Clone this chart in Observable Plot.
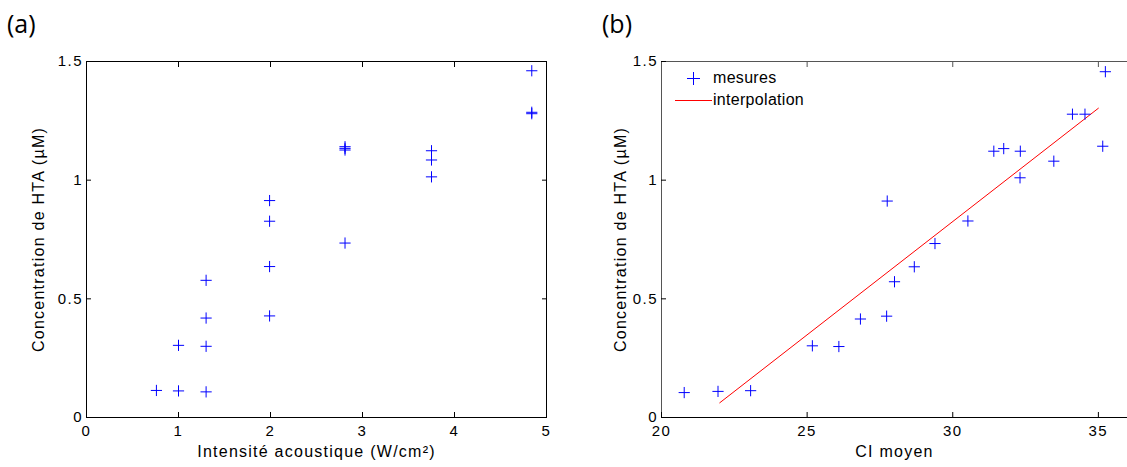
<!DOCTYPE html>
<html>
<head>
<meta charset="utf-8">
<script src="https://cdn.jsdelivr.net/npm/d3@7"></script>
<script src="https://cdn.jsdelivr.net/npm/@observablehq/plot@0.6"></script>
<style>
  html, body { margin: 0; padding: 0; background: #fff; }
  #wrap { position: relative; width: 1127px; height: 467px; overflow: hidden; background:#fff; }
  .panel { position: absolute; top: 0; }
  .panel svg g[aria-label="x-axis tick label"] text,
  .panel svg g[aria-label="y-axis tick label"] text { letter-spacing: 1.5px; }
  .panel svg g[aria-label="text"] text { letter-spacing: 1.25px; }
  .tag { position: absolute; z-index: 5; font-family: "Open Sans", sans-serif; font-size: 25px; color: #000; line-height: 1; }
  .legend { position: absolute; z-index: 5; left: 672px; top: 68px; font-family: "Liberation Sans", Arial, sans-serif; font-size: 16px; letter-spacing: 0.3px; color: #000; }
  .legend .row { position: relative; height: 22px; }
  .legend .lbl { position: absolute; left: 41px; top: 1px; white-space: nowrap; }
  .legend .plus { position: absolute; left: 15px; top: 4px; width: 13px; height: 13px; }
  .legend .plus .h { position: absolute; left: 0; top: 6px; width: 13px; height: 1px; background: #0000ff; }
  .legend .plus .v { position: absolute; left: 6px; top: 0; width: 1px; height: 13px; background: #0000ff; }
  .legend .line { position: absolute; left: 3px; top: 10px; width: 37px; height: 1px; background: #ff0000; }
</style>
</head>
<body>
<div id="wrap">
  <div id="left" class="panel" style="left:0px;"></div>
  <div id="right" class="panel" style="left:560px;"></div>
  <div class="tag" style="left:7px; top:11px;">(a)</div>
  <div class="tag" style="left:602px; top:11px;">(b)</div>
  <div class="legend">
    <div class="row"><div class="plus"><div class="h"></div><div class="v"></div></div><span class="lbl">mesures</span></div>
    <div class="row"><div class="line"></div><span class="lbl">interpolation</span></div>
  </div>
</div>
<script>
// ---- Data: panel (a) ----
const intensiteX = [0.76, 1.0, 1.0, 1.3, 1.3, 1.3, 1.3, 1.99, 1.99, 1.99, 1.99, 2.81, 2.81, 2.81, 2.81, 3.75, 3.75, 3.75, 4.84, 4.84, 4.84];
const concA = [0.114, 0.304, 0.112, 0.578, 0.419, 0.300, 0.108, 0.914, 0.827, 0.636, 0.428, 1.141, 1.134, 1.127, 0.735, 1.124, 1.085, 1.014, 1.461, 1.286, 1.280];
const ticksXA = [0, 1, 2, 3, 4, 5];

// ---- Data: panel (b) ----
const ciMoyen = [20.78, 21.94, 23.06, 25.18, 26.09, 26.83, 27.73, 27.75, 28.00, 28.68, 29.39, 30.52, 31.41, 31.75, 32.32, 32.31, 33.47, 34.11, 34.54, 35.15, 35.24];
const concB = [0.105, 0.110, 0.113, 0.302, 0.299, 0.415, 0.427, 0.912, 0.572, 0.635, 0.733, 0.828, 1.122, 1.133, 1.122, 1.010, 1.080, 1.278, 1.278, 1.143, 1.457];
const interpX = [22.0, 35.0];
const interpY = [0.062, 1.303];
const ticksXB = [20, 25, 30, 35];

const ticksY = [0, 0.5, 1, 1.5];
const yLabel = "Concentration de HTA (µM)";
const xLabelA = "Intensité acoustique (W/cm²)";
const xLabelB = "CI moyen";

const blue = "#0000ff";
const red = "#ff0000";
const fmt = d => String(d);

const ptsA = intensiteX.map((x, i) => ({x, y: concA[i]}));
const ptsB = ciMoyen.map((x, i) => ({x, y: concB[i]}));
const lineB = interpX.map((x, i) => ({x, y: interpY[i]}));

const style = {fontFamily: "'Liberation Sans', Arial, sans-serif", fontSize: "15px", background: "white", overflow: "visible"};
const R = 3.7;

const left = Plot.plot({
  width: 560, height: 467,
  marginLeft: 86, marginRight: 14, marginTop: 61, marginBottom: 50,
  style,
  x: {domain: [0, 5]},
  y: {domain: [0, 1.5]},
  marks: [
    Plot.frame({stroke: "black"}),
    Plot.axisX({anchor: "bottom", ticks: ticksXA, tickSize: -5, tickPadding: 13, tickFormat: fmt, label: null, fontSize: 15}),
    Plot.axisX({anchor: "top", ticks: ticksXA, tickSize: -5, tickFormat: () => "", label: null}),
    Plot.axisY({anchor: "left", ticks: ticksY, tickSize: -5, tickPadding: 8.5, tickFormat: fmt, label: null, fontSize: 15}),
    Plot.axisY({anchor: "right", ticks: ticksY, tickSize: -5, tickFormat: () => "", label: null}),
    Plot.text([xLabelA], {text: d => d, frameAnchor: "bottom", dy: 28, lineAnchor: "top", fontSize: 16}),
    Plot.text([yLabel], {text: d => d, frameAnchor: "left", textAnchor: "middle", dx: -48, rotate: -90, lineAnchor: "middle", fontSize: 16}),
    Plot.dot(ptsA, {x: "x", y: "y", symbol: "plus", r: R, stroke: blue, strokeWidth: 1})
  ]
});
document.getElementById("left").appendChild(left);

const right = Plot.plot({
  width: 567, height: 467,
  marginLeft: 101, marginRight: 0, marginTop: 61, marginBottom: 50,
  style,
  x: {domain: [20, 36]},
  y: {domain: [0, 1.5]},
  marks: [
    Plot.frame({anchor: "top", stroke: "#555"}),
    Plot.frame({anchor: "left", stroke: "#555"}),
    Plot.frame({anchor: "bottom", stroke: "black"}),
    Plot.axisX({anchor: "bottom", ticks: ticksXB, tickSize: -5, tickPadding: 13, tickFormat: fmt, label: null, fontSize: 15}),
    Plot.axisX({anchor: "top", ticks: ticksXB, tickSize: -5, tickFormat: () => "", label: null, stroke: "#555"}),
    Plot.axisY({anchor: "left", ticks: ticksY, tickSize: -5, tickPadding: 8.5, tickFormat: fmt, label: null, fontSize: 15}),
    Plot.text([xLabelB], {text: d => d, frameAnchor: "bottom", dy: 28, lineAnchor: "top", fontSize: 16}),
    Plot.text([yLabel], {text: d => d, frameAnchor: "left", textAnchor: "middle", dx: -41, rotate: -90, lineAnchor: "middle", fontSize: 16}),
    Plot.line(lineB, {x: "x", y: "y", stroke: red, strokeWidth: 1}),
    Plot.dot(ptsB, {x: "x", y: "y", symbol: "plus", r: R, stroke: blue, strokeWidth: 1})
  ]
});
document.getElementById("right").appendChild(right);
</script>
</body>
</html>
